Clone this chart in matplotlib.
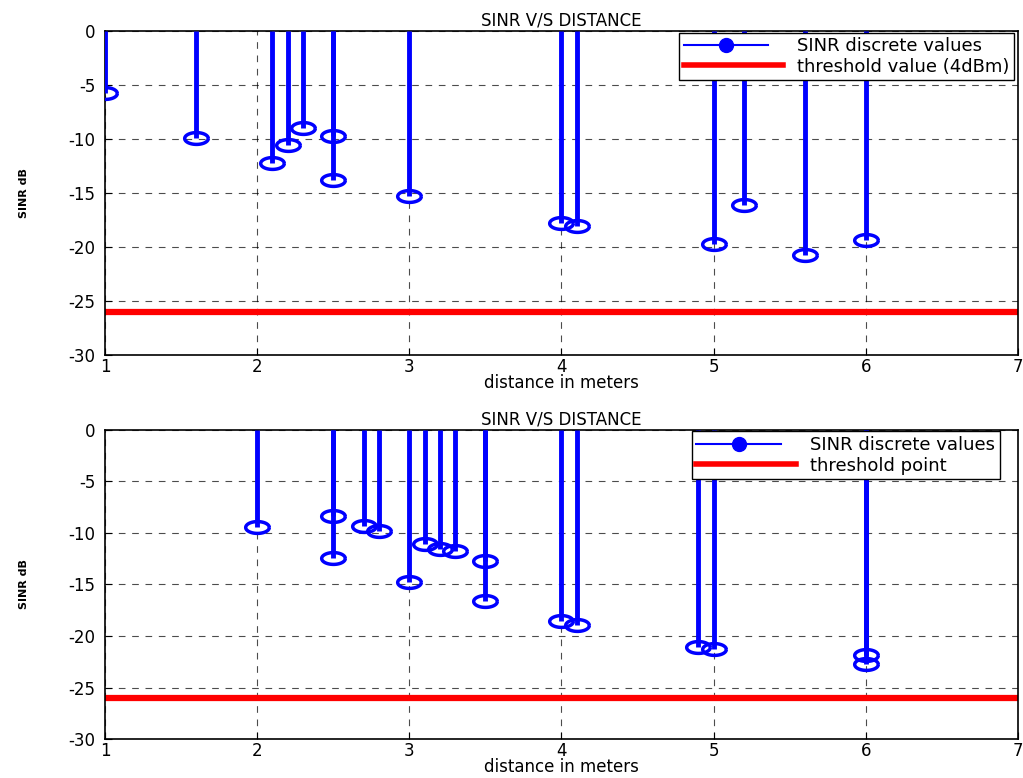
import matplotlib
matplotlib.use("Agg")
import matplotlib.pyplot as plt
import numpy as np
from matplotlib.path import Path
from matplotlib.legend_handler import HandlerLine2D

plt.rcParams['font.family'] = ['DejaVu Sans']
plt.rcParams['axes.unicode_minus'] = False

# top panel data
dist1 = [1.0, 1.6, 2.1, 2.2, 2.3, 2.5, 2.5, 3.0, 4.0, 4.1, 5.0, 5.2, 5.6, 6.0]
sinr1 = [-5.7, -9.9, -12.2, -10.6, -9.0, -9.7, -13.8, -15.3, -17.8, -18.05, -19.7, -16.1, -20.7, -19.35]
thresh1 = -26
label1 = "threshold value (4dBm)"

# bottom panel data
dist2 = [2.0, 2.5, 2.5, 2.7, 2.8, 3.0, 3.1, 3.2, 3.3, 3.5, 3.5, 4.0, 4.1, 4.9, 5.0, 6.0, 6.0]
sinr2 = [-9.4, -8.4, -12.4, -9.3, -9.8, -14.8, -11.1, -11.6, -11.8, -12.7, -16.6, -18.5, -18.9, -21.1, -21.3, -21.8, -22.7]
thresh2 = -26
label2 = "threshold point"

xticks = [1, 2, 3, 4, 5, 6, 7]
yticks = [0, -5, -10, -15, -20, -25, -30]

# flat ellipse marker (the original image is stretched sideways)
t = np.linspace(0, 2 * np.pi, 60)
ellipse = Path(np.column_stack([np.cos(t), 0.5 * np.sin(t)]))


class StemHandler(HandlerLine2D):
    # matlab-like stem legend: marker near the right end of the line
    def get_xdata(self, legend, xdescent, ydescent, width, height, fontsize):
        return [-xdescent, -xdescent + width * 0.85], [-xdescent + width * 0.78]


fig = plt.figure(figsize=(10.23, 7.78), dpi=100)
ax1 = fig.add_axes([0.1026, 0.5437, 0.8925, 0.4165])
ax2 = fig.add_axes([0.1026, 0.050, 0.8925, 0.3975])


def draw(ax, d, s, th, lab, leg_right):
    ax.vlines(d, s, 0, color='blue', linewidth=3.5, zorder=3)
    ax.plot(d, s, linestyle='none', marker=ellipse, markersize=17,
            markerfacecolor='none', markeredgecolor='blue', markeredgewidth=2.5, zorder=4)
    ax.axhline(th, color='red', linewidth=4.5, zorder=2)
    h1, = ax.plot([], [], color='blue', linewidth=1.5, marker='o', markersize=10,
                  markerfacecolor='blue', markeredgecolor='blue')
    h2, = ax.plot([], [], color='red', linewidth=4)
    ax.set_xlim(1, 7)
    ax.set_ylim(-30, 0)
    ax.set_xticks(xticks)
    ax.set_yticks(yticks)
    ax.set_yticklabels([str(v) for v in yticks])
    ax.tick_params(direction='in', labelsize=12, length=5)
    ax.tick_params(axis='x', pad=2)
    ax.tick_params(axis='y', pad=7)
    ax.grid(True, color='black', linestyle=(0, (6, 6)), linewidth=0.8, alpha=0.7)
    ax.set_axisbelow(True)
    for sp in ax.spines.values():
        sp.set_linewidth(1.2)
    ax.set_title("SINR V/S DISTANCE", fontsize=12, pad=4)
    ax.set_xlabel("distance in meters", fontsize=12, labelpad=-1)
    ax.set_ylabel("SINR dB", fontsize=8, fontweight='bold', labelpad=28)
    leg = ax.legend([h1, h2], ["SINR discrete values", lab], loc='upper right',
                    bbox_to_anchor=(leg_right, 0.995),
                    fancybox=False, edgecolor='black', fontsize=13, borderaxespad=0,
                    handlelength=5.5, framealpha=1, borderpad=0.25, labelspacing=0.15,
                    handler_map={h1: StemHandler(numpoints=1)})
    leg.get_frame().set_linewidth(1.0)


draw(ax1, dist1, sinr1, thresh1, label1, 0.996)
draw(ax2, dist2, sinr2, thresh2, label2, 0.980)

fig.savefig("out.png", dpi=100)
